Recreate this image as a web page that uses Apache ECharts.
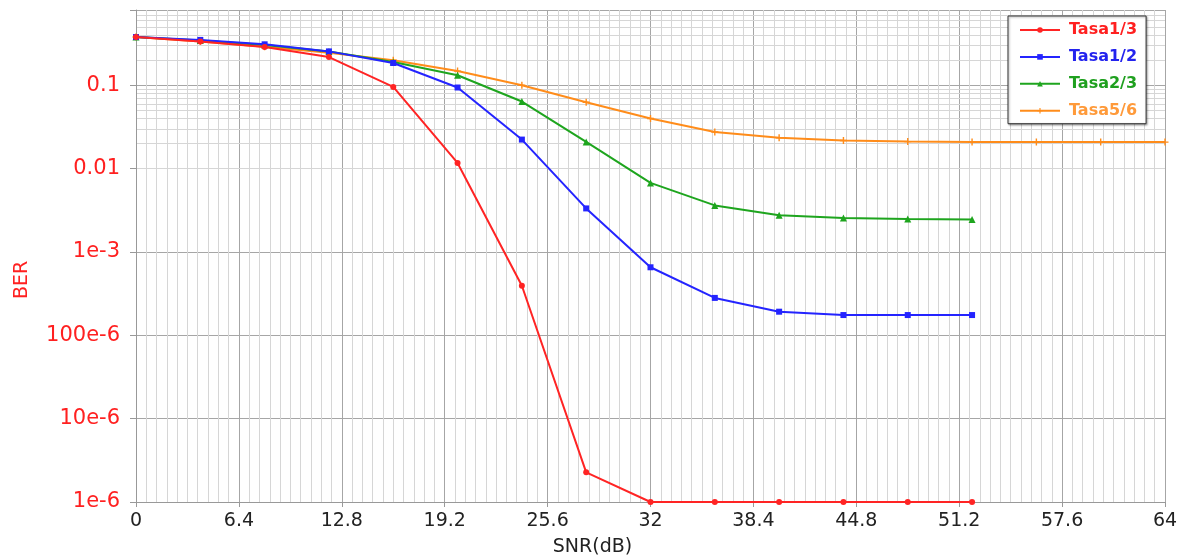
<!DOCTYPE html>
<html>
<head>
<meta charset="utf-8">
<script src="https://cdn.jsdelivr.net/npm/echarts@6/dist/echarts.min.js"></script>
<style>
html,body{margin:0;padding:0;background:#fff;}
#chart{width:1183px;height:557px;}
</style>
</head>
<body>
<div id="chart"></div>
<script>
// ---- data ----
const snr = [0, 4, 8, 12, 16, 20, 24, 28, 32, 36, 40, 44, 48, 52, 56, 60, 64];
const seriesNames = ['Tasa1/3', 'Tasa1/2', 'Tasa2/3', 'Tasa5/6'];
const tasa13 = [0.379, 0.336, 0.288, 0.218, 0.0955, 0.0117, 3.93e-4, 2.27e-6, 1e-6, 1e-6, 1e-6, 1e-6, 1e-6, 1e-6];
const tasa12 = [0.379, 0.35, 0.31, 0.255, 0.185, 0.094, 0.0223, 3.33e-3, 6.55e-4, 2.81e-4, 1.92e-4, 1.75e-4, 1.75e-4, 1.75e-4];
const tasa23 = [0.379, 0.345, 0.305, 0.255, 0.19, 0.132, 0.0638, 0.0209, 6.74e-3, 3.62e-3, 2.75e-3, 2.55e-3, 2.48e-3, 2.45e-3];
const tasa56 = [0.379, 0.336, 0.29, 0.245, 0.2, 0.148, 0.1, 0.0625, 0.0399, 0.0275, 0.0234, 0.0217, 0.0211, 0.0208, 0.0208, 0.0208, 0.0208];
const yTickValues = [1e-6, 1e-5, 1e-4, 1e-3, 1e-2, 1e-1];
const yTickLabels = ['1e-6', '10e-6', '100e-6', '1e-3', '0.01', '0.1'];
const yMin = 1e-6, yMax = 0.8;

// ---- chart ----
const colors = ['#ff2424', '#2424ff', '#1ea51e', '#ff8c1a'];
const textColors = ['#ff2020', '#2323ee', '#1fa01f', '#ff9a3a'];
const symbols = ['circle', 'rect', 'triangle', 'path://M4,0h2v4h4v2h-4v4h-2v-4h-4v-2h4z'];
const symbolSizes = [6, 6, 7, 7];
const allValues = [tasa13, tasa12, tasa23, tasa56];

function pairs(vals) { return vals.map((v, i) => [snr[i], v]); }

// log-spaced minor horizontal grid lines (2..9 within each decade)
const minorY = [];
yTickValues.forEach(d => {
  for (let k = 2; k <= 9; k++) {
    const v = k * d;
    if (v < yMax * 0.999) minorY.push({ yAxis: v });
  }
});

const chart = echarts.init(document.getElementById('chart'));
chart.setOption({
  animation: false,
  backgroundColor: '#fff',
  grid: { left: 136, right: 18, top: 10, bottom: 55, containLabel: false, outerBoundsMode: 'none' },
  legend: {
    orient: 'vertical',
    left: 1008, top: 16,
    data: seriesNames.map((n, i) => ({ name: n, textStyle: { color: textColors[i] } })),
    backgroundColor: '#fff',
    borderColor: '#333',
    borderWidth: 1,
    shadowColor: 'rgba(0,0,0,0.35)', shadowBlur: 2, shadowOffsetX: 1, shadowOffsetY: 1,
    padding: [6, 9, 5, 11],
    itemWidth: 40, itemHeight: 7, itemGap: 10.9,
    textStyle: { fontFamily: 'DejaVu Sans', fontWeight: 'bold', fontSize: 16, lineHeight: 15, padding: [0, 0, 0, 4] }
  },
  xAxis: {
    type: 'value', min: 0, max: 64, interval: 6.4,
    name: 'SNR(dB)', nameLocation: 'middle', nameGap: 36,
    nameTextStyle: { color: '#222', fontFamily: 'DejaVu Sans', fontSize: 19, padding: [0, 116, 0, 0] },
    axisLine: { show: true, lineStyle: { color: '#999', width: 1 } },
    axisTick: { show: true, length: 5, lineStyle: { color: '#999' } },
    axisLabel: { color: '#222', fontFamily: 'DejaVu Sans', fontSize: 19, margin: 10 },
    splitLine: { show: true, lineStyle: { color: '#a6a6a6', width: 1 } },
    minorTick: { show: false, splitNumber: 10 },
    minorSplitLine: { show: true, lineStyle: { color: '#d6d6d6', width: 1 } }
  },
  yAxis: {
    type: 'log', logBase: 10, min: yMin, max: yMax, interval: 1,
    name: 'BER', nameLocation: 'middle', nameGap: 104,
    nameTextStyle: { color: '#ff2020', fontFamily: 'DejaVu Sans', fontSize: 19, padding: [0, 48, 0, 0] },
    axisLine: { show: true, lineStyle: { color: '#999', width: 1 } },
    axisTick: { show: true, length: 6, lineStyle: { color: '#999' } },
    axisLabel: {
      color: '#ff2020', fontFamily: 'DejaVu Sans', fontSize: 21, margin: 16,
      formatter: function (v) {
        for (let i = 0; i < yTickValues.length; i++) {
          if (Math.abs(Math.log10(v) - Math.log10(yTickValues[i])) < 1e-6) return yTickLabels[i];
        }
        return '';
      }
    },
    splitLine: { show: true, lineStyle: { color: '#a6a6a6', width: 1 } },
    minorSplitLine: { show: false }
  },
  series: [{
    name: 'grid-minor',
    type: 'line',
    data: [],
    silent: true,
    z: 0,
    markLine: {
      silent: true,
      z: 0,
      symbol: ['none', 'none'],
      label: { show: false },
      lineStyle: { color: '#d6d6d6', width: 1, type: 'solid' },
      emphasis: { disabled: true },
      data: minorY
    }
  }].concat(seriesNames.map((n, i) => ({
    name: n,
    type: 'line',
    data: pairs(allValues[i]),
    symbol: symbols[i],
    symbolSize: symbolSizes[i],
    showAllSymbol: true,
    clip: false,
    z: 10 - i,
    lineStyle: { color: colors[i], width: 2 },
    itemStyle: { color: colors[i] }
  })))
});
</script>
</body>
</html>
